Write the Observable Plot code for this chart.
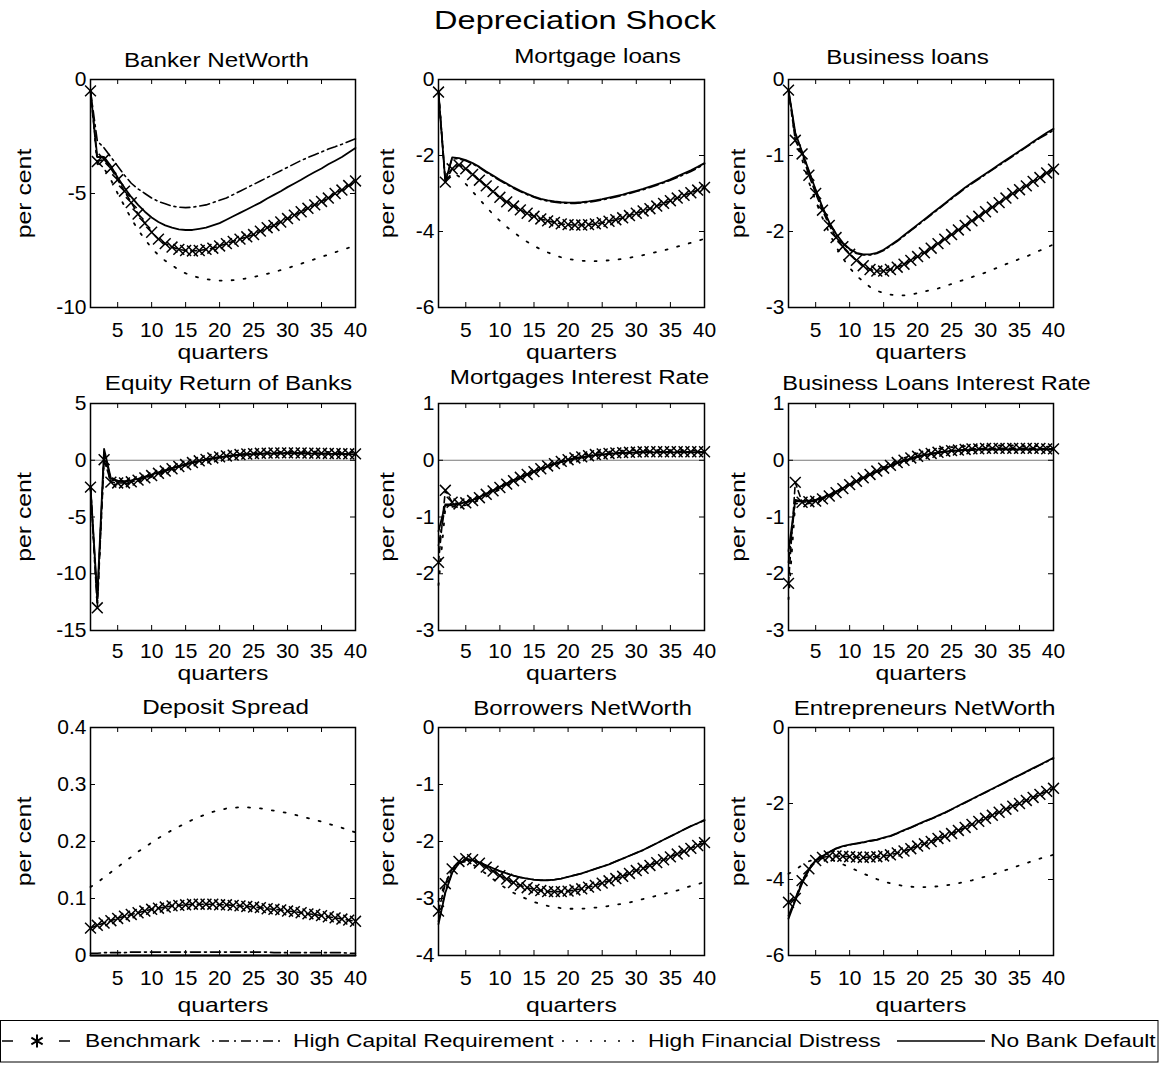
<!DOCTYPE html>
<html><head><meta charset="utf-8">
<script src="https://cdn.jsdelivr.net/npm/d3@7"></script>
<script src="https://cdn.jsdelivr.net/npm/@observablehq/plot@0.6"></script>
<style>
body{margin:0;background:#fff;}
#root{position:relative;width:1165px;height:1065px;overflow:hidden;background:#fff;font-family:"Liberation Sans",Arial,sans-serif;}
#root svg{position:absolute;overflow:visible;}
</style></head><body><div id="root"></div>
<script>
// ---------------- DATA ----------------
const mainTitle = "Depreciation Shock";
const quarters = [1,2,3,4,5,6,7,8,9,10,11,12,13,14,15,16,17,18,19,20,21,22,23,24,25,26,27,28,29,30,31,32,33,34,35,36,37,38,39,40];
const xTickValues = [5,10,15,20,25,30,35,40];
const seriesNames = ["Benchmark","High Capital Requirement","High Financial Distress","No Bank Default"];
const panelTitles = ["Banker NetWorth","Mortgage loans","Business loans","Equity Return of Banks","Mortgages Interest Rate","Business Loans Interest Rate","Deposit Spread","Borrowers NetWorth","Entrepreneurs NetWorth"];
const yTickValues = [[-10,-5,0],[-6,-4,-2,0],[-3,-2,-1,0],[-15,-10,-5,0,5],[-3,-2,-1,0,1],[-3,-2,-1,0,1],[0,0.1,0.2,0.3,0.4],[-4,-3,-2,-1,0],[-6,-4,-2,0]];
const xLabel = "quarters";
const yLabel = "per cent";

// Banker NetWorth
const bankerBenchmark = [-0.5,-3.6,-3.5,-3.9,-4.4,-4.9,-5.4,-5.9,-6.3,-6.7,-7.0,-7.2,-7.35,-7.45,-7.5,-7.52,-7.5,-7.45,-7.4,-7.3,-7.2,-7.1,-7.0,-6.9,-6.8,-6.65,-6.5,-6.4,-6.25,-6.1,-5.95,-5.8,-5.65,-5.5,-5.35,-5.2,-5.0,-4.85,-4.65,-4.45];
const bankerHighCap = [-0.5,-2.7,-3.0,-3.4,-3.8,-4.2,-4.55,-4.8,-5.0,-5.2,-5.35,-5.45,-5.55,-5.6,-5.62,-5.6,-5.55,-5.5,-5.4,-5.3,-5.2,-5.05,-4.9,-4.75,-4.6,-4.45,-4.3,-4.15,-4.0,-3.85,-3.7,-3.55,-3.42,-3.3,-3.18,-3.05,-2.95,-2.84,-2.72,-2.6];
const bankerHighFin = [-0.5,-3.7,-3.9,-4.4,-5.0,-5.55,-6.1,-6.6,-7.0,-7.4,-7.7,-7.95,-8.15,-8.35,-8.5,-8.6,-8.7,-8.75,-8.8,-8.82,-8.82,-8.8,-8.77,-8.72,-8.66,-8.6,-8.52,-8.45,-8.36,-8.27,-8.18,-8.08,-7.98,-7.88,-7.78,-7.68,-7.58,-7.48,-7.38,-7.28];
const bankerNoDefault = [-0.5,-3.4,-3.4,-3.8,-4.3,-4.75,-5.15,-5.5,-5.8,-6.05,-6.25,-6.4,-6.5,-6.57,-6.6,-6.6,-6.55,-6.5,-6.4,-6.3,-6.15,-6.0,-5.85,-5.7,-5.55,-5.4,-5.22,-5.06,-4.9,-4.72,-4.56,-4.4,-4.22,-4.06,-3.9,-3.72,-3.56,-3.4,-3.2,-3.0];
// Mortgage loans
const mortBenchmark = [-0.33,-2.7,-2.35,-2.25,-2.35,-2.5,-2.65,-2.8,-2.95,-3.1,-3.22,-3.33,-3.43,-3.52,-3.6,-3.67,-3.72,-3.76,-3.8,-3.82,-3.83,-3.83,-3.82,-3.8,-3.77,-3.73,-3.69,-3.64,-3.58,-3.52,-3.46,-3.4,-3.33,-3.26,-3.19,-3.12,-3.05,-2.98,-2.91,-2.84];
const mortHighCap = [-0.33,-2.65,-2.08,-2.09,-2.14,-2.22,-2.32,-2.44,-2.55,-2.66,-2.76,-2.86,-2.95,-3.03,-3.1,-3.16,-3.2,-3.23,-3.25,-3.26,-3.26,-3.25,-3.23,-3.2,-3.17,-3.13,-3.09,-3.05,-3.0,-2.95,-2.9,-2.84,-2.78,-2.72,-2.65,-2.58,-2.5,-2.42,-2.33,-2.22];
const mortHighFin = [-0.33,-2.7,-2.45,-2.55,-2.75,-2.95,-3.15,-3.35,-3.55,-3.72,-3.88,-4.02,-4.15,-4.27,-4.38,-4.47,-4.55,-4.62,-4.68,-4.72,-4.75,-4.77,-4.78,-4.78,-4.77,-4.76,-4.74,-4.72,-4.69,-4.66,-4.62,-4.58,-4.54,-4.5,-4.45,-4.4,-4.35,-4.3,-4.25,-4.19];
const mortNoDefault = [-0.33,-2.7,-2.05,-2.07,-2.12,-2.2,-2.3,-2.42,-2.53,-2.64,-2.74,-2.84,-2.93,-3.01,-3.08,-3.14,-3.18,-3.21,-3.23,-3.24,-3.24,-3.23,-3.21,-3.18,-3.15,-3.11,-3.07,-3.03,-2.98,-2.93,-2.88,-2.82,-2.76,-2.7,-2.63,-2.55,-2.47,-2.39,-2.3,-2.2];
// Business loans
const busBenchmark = [-0.14,-0.8,-0.98,-1.26,-1.5,-1.72,-1.92,-2.08,-2.2,-2.3,-2.38,-2.45,-2.5,-2.52,-2.52,-2.5,-2.47,-2.43,-2.38,-2.33,-2.28,-2.22,-2.16,-2.1,-2.04,-1.98,-1.92,-1.86,-1.8,-1.74,-1.68,-1.62,-1.56,-1.5,-1.45,-1.4,-1.34,-1.29,-1.23,-1.18];
const busHighCap = [-0.14,-0.72,-0.96,-1.21,-1.46,-1.69,-1.89,-2.04,-2.16,-2.24,-2.29,-2.31,-2.31,-2.29,-2.25,-2.19,-2.13,-2.06,-1.99,-1.92,-1.85,-1.78,-1.71,-1.64,-1.57,-1.5,-1.43,-1.37,-1.31,-1.25,-1.19,-1.13,-1.07,-1.01,-0.95,-0.89,-0.83,-0.77,-0.72,-0.67];
const busHighFin = [-0.14,-0.8,-1.05,-1.35,-1.6,-1.82,-2.02,-2.2,-2.35,-2.48,-2.58,-2.66,-2.73,-2.78,-2.81,-2.83,-2.84,-2.84,-2.83,-2.81,-2.79,-2.77,-2.75,-2.72,-2.69,-2.66,-2.63,-2.6,-2.57,-2.54,-2.5,-2.47,-2.43,-2.4,-2.36,-2.33,-2.29,-2.25,-2.21,-2.17];
const busNoDefault = [-0.14,-0.7,-0.95,-1.2,-1.45,-1.68,-1.88,-2.03,-2.15,-2.23,-2.28,-2.3,-2.3,-2.28,-2.24,-2.18,-2.12,-2.05,-1.98,-1.91,-1.84,-1.77,-1.7,-1.63,-1.56,-1.49,-1.42,-1.36,-1.3,-1.24,-1.18,-1.12,-1.06,-1.0,-0.94,-0.88,-0.82,-0.76,-0.7,-0.65];
// Equity Return of Banks
const eqBenchmark = [-2.37,-13.0,0.05,-1.93,-2.0,-2.0,-1.9,-1.75,-1.55,-1.35,-1.15,-0.95,-0.75,-0.55,-0.38,-0.2,-0.05,0.08,0.2,0.3,0.38,0.45,0.5,0.55,0.58,0.61,0.63,0.64,0.65,0.65,0.65,0.64,0.63,0.62,0.61,0.6,0.59,0.58,0.57,0.56];
const eqHighCap = [-2.2,-12.4,0.7,-1.7,-1.9,-1.92,-1.84,-1.69,-1.5,-1.3,-1.1,-0.9,-0.71,-0.53,-0.36,-0.2,-0.06,0.07,0.18,0.27,0.35,0.42,0.47,0.51,0.54,0.57,0.59,0.6,0.61,0.61,0.61,0.61,0.6,0.59,0.58,0.57,0.56,0.55,0.54,0.53];
const eqHighFin = [-2.5,-12.8,0.4,-2.1,-2.15,-2.12,-2.02,-1.86,-1.67,-1.47,-1.26,-1.05,-0.85,-0.65,-0.47,-0.3,-0.14,0.0,0.13,0.25,0.35,0.44,0.51,0.57,0.62,0.66,0.69,0.71,0.73,0.74,0.75,0.75,0.75,0.75,0.74,0.74,0.73,0.72,0.71,0.7];
const eqNoDefault = [-2.3,-12.0,1.0,-1.6,-1.8,-1.85,-1.78,-1.63,-1.45,-1.26,-1.07,-0.88,-0.7,-0.52,-0.36,-0.2,-0.06,0.06,0.17,0.26,0.34,0.41,0.46,0.5,0.53,0.56,0.58,0.59,0.6,0.6,0.6,0.6,0.59,0.58,0.57,0.56,0.55,0.54,0.53,0.52];
// Mortgages Interest Rate
const mrBenchmark = [-1.8,-0.53,-0.74,-0.77,-0.75,-0.71,-0.66,-0.6,-0.54,-0.48,-0.42,-0.36,-0.3,-0.25,-0.2,-0.15,-0.1,-0.06,-0.02,0.01,0.04,0.06,0.08,0.1,0.11,0.12,0.13,0.135,0.14,0.145,0.15,0.15,0.15,0.15,0.15,0.15,0.15,0.15,0.15,0.15];
const mrHighCap = [-1.5,-0.8,-0.79,-0.77,-0.74,-0.7,-0.65,-0.59,-0.53,-0.47,-0.41,-0.35,-0.3,-0.25,-0.2,-0.15,-0.11,-0.07,-0.03,0.0,0.03,0.05,0.07,0.09,0.1,0.11,0.12,0.125,0.13,0.135,0.14,0.14,0.14,0.14,0.14,0.14,0.14,0.14,0.14,0.14];
const mrHighFin = [-2.2,-0.85,-0.82,-0.81,-0.79,-0.75,-0.7,-0.64,-0.58,-0.51,-0.45,-0.38,-0.32,-0.26,-0.2,-0.15,-0.1,-0.05,-0.01,0.03,0.06,0.09,0.11,0.13,0.14,0.15,0.16,0.17,0.17,0.18,0.18,0.18,0.18,0.18,0.18,0.18,0.18,0.17,0.17,0.17];
const mrNoDefault = [-1.25,-0.78,-0.78,-0.77,-0.74,-0.7,-0.65,-0.59,-0.53,-0.47,-0.41,-0.35,-0.3,-0.25,-0.2,-0.15,-0.11,-0.07,-0.03,0.0,0.03,0.05,0.07,0.09,0.1,0.11,0.12,0.125,0.13,0.135,0.14,0.14,0.14,0.14,0.14,0.14,0.14,0.14,0.14,0.14];
// Business Loans Interest Rate
const brBenchmark = [-2.17,-0.39,-0.74,-0.73,-0.72,-0.68,-0.63,-0.57,-0.5,-0.43,-0.37,-0.31,-0.25,-0.19,-0.14,-0.09,-0.04,0.0,0.04,0.07,0.1,0.12,0.14,0.16,0.17,0.18,0.19,0.2,0.2,0.21,0.21,0.21,0.21,0.21,0.21,0.21,0.21,0.21,0.2,0.2];
const brHighCap = [-1.8,-0.72,-0.73,-0.72,-0.7,-0.66,-0.61,-0.55,-0.49,-0.43,-0.37,-0.31,-0.25,-0.2,-0.15,-0.1,-0.05,-0.01,0.03,0.06,0.09,0.11,0.13,0.15,0.16,0.17,0.18,0.18,0.19,0.19,0.19,0.19,0.19,0.19,0.19,0.19,0.19,0.19,0.19,0.19];
const brHighFin = [-2.45,-0.76,-0.77,-0.76,-0.74,-0.7,-0.64,-0.58,-0.51,-0.44,-0.37,-0.3,-0.24,-0.18,-0.12,-0.06,-0.01,0.04,0.08,0.12,0.15,0.18,0.2,0.22,0.23,0.24,0.25,0.25,0.26,0.26,0.26,0.26,0.26,0.26,0.25,0.25,0.25,0.25,0.24,0.24];
const brNoDefault = [-1.6,-0.7,-0.72,-0.71,-0.7,-0.66,-0.61,-0.55,-0.49,-0.43,-0.37,-0.31,-0.25,-0.2,-0.15,-0.1,-0.05,-0.01,0.03,0.06,0.09,0.11,0.13,0.15,0.16,0.17,0.18,0.18,0.19,0.19,0.19,0.19,0.19,0.19,0.19,0.19,0.19,0.19,0.19,0.19];
// Deposit Spread
const dsBenchmark = [0.048,0.053,0.057,0.061,0.065,0.069,0.072,0.075,0.078,0.081,0.083,0.085,0.087,0.088,0.089,0.09,0.09,0.09,0.09,0.089,0.089,0.088,0.087,0.086,0.085,0.084,0.082,0.081,0.08,0.078,0.077,0.075,0.073,0.072,0.07,0.068,0.066,0.064,0.062,0.06];
const dsHighCap = [0.004,0.004,0.005,0.005,0.005,0.005,0.006,0.006,0.006,0.006,0.006,0.006,0.006,0.006,0.006,0.006,0.006,0.006,0.006,0.006,0.006,0.006,0.006,0.006,0.006,0.006,0.006,0.005,0.005,0.005,0.005,0.005,0.005,0.005,0.005,0.005,0.005,0.005,0.004,0.004];
const dsHighFin = [0.12,0.128,0.137,0.146,0.155,0.164,0.173,0.182,0.19,0.198,0.206,0.213,0.22,0.226,0.232,0.238,0.243,0.248,0.252,0.255,0.258,0.259,0.26,0.26,0.259,0.258,0.256,0.254,0.252,0.25,0.247,0.244,0.241,0.238,0.235,0.231,0.228,0.224,0.22,0.216];
const dsNoDefault = [0,0,0,0,0,0,0,0,0,0,0,0,0,0,0,0,0,0,0,0,0,0,0,0,0,0,0,0,0,0,0,0,0,0,0,0,0,0,0,0];
// Borrowers NetWorth
const bwBenchmark = [-3.22,-2.74,-2.48,-2.35,-2.3,-2.32,-2.38,-2.45,-2.52,-2.6,-2.66,-2.72,-2.77,-2.81,-2.84,-2.86,-2.88,-2.88,-2.88,-2.87,-2.85,-2.83,-2.8,-2.77,-2.73,-2.69,-2.65,-2.61,-2.56,-2.51,-2.47,-2.42,-2.37,-2.32,-2.27,-2.22,-2.17,-2.12,-2.07,-2.02];
const bwHighCap = [-3.4,-2.88,-2.54,-2.38,-2.32,-2.33,-2.37,-2.42,-2.47,-2.52,-2.56,-2.6,-2.63,-2.65,-2.67,-2.68,-2.68,-2.67,-2.65,-2.62,-2.59,-2.56,-2.52,-2.48,-2.44,-2.4,-2.35,-2.3,-2.25,-2.2,-2.15,-2.09,-2.03,-1.97,-1.91,-1.85,-1.79,-1.73,-1.68,-1.63];
const bwHighFin = [-3.05,-2.72,-2.5,-2.38,-2.35,-2.4,-2.48,-2.57,-2.66,-2.75,-2.83,-2.9,-2.96,-3.01,-3.06,-3.1,-3.13,-3.15,-3.17,-3.18,-3.18,-3.18,-3.17,-3.16,-3.15,-3.13,-3.11,-3.09,-3.07,-3.04,-3.01,-2.98,-2.95,-2.92,-2.89,-2.86,-2.82,-2.78,-2.75,-2.71];
const bwNoDefault = [-3.45,-2.9,-2.55,-2.38,-2.32,-2.33,-2.37,-2.42,-2.47,-2.52,-2.56,-2.6,-2.63,-2.65,-2.67,-2.68,-2.68,-2.67,-2.65,-2.62,-2.59,-2.56,-2.52,-2.48,-2.44,-2.4,-2.35,-2.3,-2.25,-2.2,-2.15,-2.09,-2.03,-1.97,-1.91,-1.85,-1.79,-1.73,-1.68,-1.62];
// Entrepreneurs NetWorth
const enBenchmark = [-4.6,-4.5,-4.03,-3.72,-3.5,-3.42,-3.38,-3.38,-3.39,-3.4,-3.41,-3.42,-3.41,-3.4,-3.38,-3.35,-3.3,-3.25,-3.19,-3.12,-3.06,-3.0,-2.92,-2.86,-2.79,-2.71,-2.63,-2.55,-2.47,-2.39,-2.31,-2.23,-2.15,-2.07,-2.0,-1.92,-1.84,-1.76,-1.68,-1.6];
const enHighCap = [-4.95,-4.52,-4.08,-3.74,-3.5,-3.38,-3.28,-3.19,-3.13,-3.09,-3.06,-3.03,-2.99,-2.96,-2.91,-2.86,-2.79,-2.71,-2.64,-2.56,-2.48,-2.41,-2.33,-2.25,-2.16,-2.07,-1.98,-1.89,-1.8,-1.71,-1.62,-1.53,-1.44,-1.35,-1.26,-1.17,-1.08,-0.99,-0.9,-0.81];
const enHighFin = [-3.85,-3.75,-3.62,-3.52,-3.46,-3.44,-3.46,-3.52,-3.6,-3.68,-3.76,-3.84,-3.92,-3.99,-4.05,-4.1,-4.14,-4.17,-4.19,-4.2,-4.2,-4.19,-4.18,-4.16,-4.13,-4.1,-4.06,-4.02,-3.97,-3.92,-3.87,-3.81,-3.75,-3.69,-3.63,-3.57,-3.51,-3.45,-3.4,-3.35];
const enNoDefault = [-5.03,-4.55,-4.1,-3.75,-3.5,-3.38,-3.28,-3.18,-3.12,-3.08,-3.05,-3.02,-2.98,-2.95,-2.9,-2.85,-2.78,-2.7,-2.63,-2.55,-2.47,-2.4,-2.32,-2.24,-2.15,-2.06,-1.97,-1.88,-1.79,-1.7,-1.61,-1.52,-1.43,-1.34,-1.25,-1.16,-1.07,-0.98,-0.89,-0.8];

// -------------- LAYOUT / STYLE --------------
const panelSeries = [
  [bankerBenchmark, bankerHighCap, bankerHighFin, bankerNoDefault],
  [mortBenchmark, mortHighCap, mortHighFin, mortNoDefault],
  [busBenchmark, busHighCap, busHighFin, busNoDefault],
  [eqBenchmark, eqHighCap, eqHighFin, eqNoDefault],
  [mrBenchmark, mrHighCap, mrHighFin, mrNoDefault],
  [brBenchmark, brHighCap, brHighFin, brNoDefault],
  [dsBenchmark, dsHighCap, dsHighFin, dsNoDefault],
  [bwBenchmark, bwHighCap, bwHighFin, bwNoDefault],
  [enBenchmark, enHighCap, enHighFin, enNoDefault]
];
const zeroLinePanels = [3,4,5];
const frameLefts = [90, 438, 788], frameWidths = [265, 266, 265];
const frameTops = [79, 403, 727], frameHeights = [228, 227, 228];
const titleCenters = [[216,60],[597,56],[907,57],[228,383],[579,377],[936,383],[225,707],[582,708],[924,708]];
const tickPadRow = [23, 21, 23];
const quartersDyRow = [45, 43, 50];
const perCentDxCol = [-66, -51, -50];
const ML = 80, MR = 50, MT = 50, MB = 65;
const FONT = "Liberation Sans, Arial, Helvetica, sans-serif";

const root = document.getElementById("root");

panelSeries.forEach((ser, i) => {
  const col = i % 3, row = Math.floor(i / 3);
  const fl = frameLefts[col], fw = frameWidths[col], ft = frameTops[row], fh = frameHeights[row];
  const yt = yTickValues[i];
  const rows = ser.map(arr => quarters.map((q, k) => ({q, v: arr[k]})));
  const [bench, hc, hfd, nbd] = rows;
  const marks = [];
  if (zeroLinePanels.includes(i)) marks.push(Plot.ruleY([0], {stroke: "#7a7a7a", strokeWidth: 1}));
  marks.push(
    Plot.line(hfd, {x: "q", y: "v", stroke: "black", strokeWidth: 1.8, strokeDasharray: "2,10"}),
    Plot.line(hc, {x: "q", y: "v", stroke: "black", strokeWidth: 1.6, strokeDasharray: "10,4,2,4"}),
    Plot.line(nbd, {x: "q", y: "v", stroke: "black", strokeWidth: 1.8}),
    Plot.line(bench, {x: "q", y: "v", stroke: "black", strokeWidth: 1.6, strokeDasharray: "6,4"}),
    Plot.dot(bench, {x: "q", y: "v", symbol: "times", r: 5, stroke: "black", strokeWidth: 1.5, fill: "none"}),
    // inward ticks
    Plot.ruleX(xTickValues, {x: d => d, insetTop: fh - 5, stroke: "black", strokeWidth: 1}),
    Plot.ruleX(xTickValues, {x: d => d, insetBottom: fh - 5, stroke: "black", strokeWidth: 1}),
    Plot.ruleY(yt, {y: d => d, insetRight: fw - 5, stroke: "black", strokeWidth: 1}),
    Plot.ruleY(yt, {y: d => d, insetLeft: fw - 5, stroke: "black", strokeWidth: 1}),
    Plot.frame({stroke: "black", strokeWidth: 1.5}),
    Plot.axisX(xTickValues, {tickSize: 0, tickPadding: tickPadRow[row], lineAnchor: "middle", tickFormat: d => String(d), label: null, fontSize: 21}),
    Plot.axisY(yt, {tickSize: 0, tickPadding: 4, tickFormat: d => String(d), label: null, fontSize: 21}),
    Plot.text([panelTitles[i]], {frameAnchor: "top", text: d => d, fontSize: i === 5 ? 20 : 20.5, textAnchor: "middle", lineAnchor: "middle",
      dx: titleCenters[i][0] - (fl + fw / 2), dy: titleCenters[i][1] - ft}),
    Plot.text([xLabel], {frameAnchor: "bottom", text: d => d, fontSize: 21, textAnchor: "middle", lineAnchor: "middle", dy: quartersDyRow[row]}),
    Plot.text([yLabel], {frameAnchor: "left", text: d => d, fontSize: 21, rotate: -90, textAnchor: "middle", lineAnchor: "middle", dx: perCentDxCol[col]})
  );
  const svg = Plot.plot({
    width: ML + fw + MR, height: MT + fh + MB,
    marginLeft: ML, marginRight: MR, marginTop: MT, marginBottom: MB,
    x: {domain: [1, 40]},
    y: {domain: [yt[0], yt[yt.length - 1]]},
    style: {position: "absolute", left: (fl - ML) + "px", top: (ft - MT) + "px", background: "transparent",
      color: "black", fontFamily: FONT, fontSize: "21px", overflow: "visible", maxWidth: "none"},
    marks
  });
  root.appendChild(svg);
});

// Main title
const topSvg = d3.select(root).append("svg").attr("width", 1165).attr("height", 45)
  .style("left", "0px").style("top", "0px").attr("font-family", FONT);
topSvg.append("text").attr("class", "wide").attr("x", 575).attr("y", 20).attr("dy", "0.35em").attr("text-anchor", "middle")
  .attr("font-size", 25).attr("fill", "black").text(mainTitle);

// Legend
const lg = d3.select(root).append("svg").attr("width", 1165).attr("height", 55)
  .style("left", "0px").style("top", "1010px").attr("font-family", FONT);
lg.append("rect").attr("x", 0.5).attr("y", 10.5).attr("width", 1157.5).attr("height", 41.5)
  .attr("fill", "white").attr("stroke", "black").attr("stroke-width", 1);
const ly = 31;
lg.append("line").attr("x1", 2).attr("x2", 13).attr("y1", ly).attr("y2", ly).attr("stroke", "black").attr("stroke-width", 1.5);
lg.append("line").attr("x1", 59).attr("x2", 70).attr("y1", ly).attr("y2", ly).attr("stroke", "black").attr("stroke-width", 1.5);
lg.append("path").attr("d", d3.symbol(d3.symbolAsterisk, 120)()).attr("transform", `translate(37,${ly})`)
  .attr("fill", "none").attr("stroke", "black").attr("stroke-width", 2);
lg.append("line").attr("x1", 212).attr("x2", 285).attr("y1", ly).attr("y2", ly).attr("stroke", "black").attr("stroke-width", 1.5).attr("stroke-dasharray", "2,5,10,5");
lg.append("line").attr("x1", 562).attr("x2", 640).attr("y1", ly).attr("y2", ly).attr("stroke", "black").attr("stroke-width", 1.7).attr("stroke-dasharray", "2,12");
lg.append("line").attr("x1", 897).attr("x2", 985).attr("y1", ly).attr("y2", ly).attr("stroke", "black").attr("stroke-width", 1.7);
const legendX = [85, 293, 648, 990];
seriesNames.forEach((n, k) => {
  lg.append("text").attr("class", "wide").attr("x", legendX[k]).attr("y", ly).attr("dy", "0.35em").attr("font-size", 17.5).attr("fill", "black").text(n);
});

// widen word glyphs to match the reference's wide typeface (numbers stay as they are)
root.querySelectorAll("svg text").forEach(t => {
  const s = t.textContent.trim();
  if (/^-?[\d.]+$/.test(s)) return;
  const k = t.classList.contains("wide") ? 1.3 : 1.18;
  const L = t.getComputedTextLength();
  if (L > 0) {
    t.setAttribute("textLength", (L * k).toFixed(1));
    t.setAttribute("lengthAdjust", "spacingAndGlyphs");
  }
});
</script></body></html>
